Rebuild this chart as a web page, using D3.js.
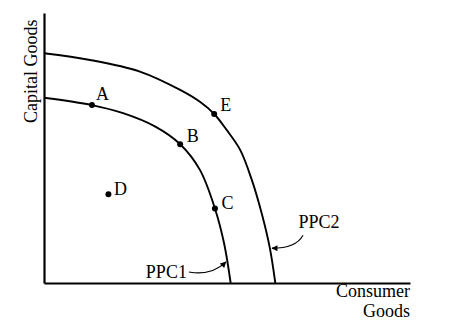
<!DOCTYPE html>
<html>
<head>
<meta charset="utf-8">
<script src="https://cdn.jsdelivr.net/npm/d3@7"></script>
<style>
  body { margin: 0; background: #fff; }
  text { font-family: "Liberation Serif", "Times New Roman", serif; font-size: 18px; fill: #000; }
</style>
</head>
<body>
<svg id="chart"></svg>
<script>
// curve points in (consumer goods, capital goods) units
const ppc1 = [[0, 6.86], [1.31, 6.59], [2.16, 6.29], [3.03, 5.80], [3.72, 5.14], [4.26, 4.19], [4.67, 2.76], [4.92, 1.47], [5.10, 0]];
const ppc2 = [[0, 8.51], [1.26, 8.26], [2.62, 7.83], [3.72, 7.15], [4.26, 6.71], [4.65, 6.26], [4.99, 5.67], [5.36, 4.93], [5.68, 3.81], [5.96, 2.52], [6.17, 1.30], [6.32, 0]];
const pointNames = ["A", "B", "C", "D", "E"];
const pointX = [1.31, 3.72, 4.67, 1.76, 4.65];
const pointY = [6.59, 5.14, 2.76, 3.29, 6.26];
const curveNames = ["PPC1", "PPC2"];
const calloutX = [4.97, 6.23];
const calloutY = [0.78, 1.29];

let width = 463, height = 336;
let margin = { top: 13, right: 53, bottom: 53, left: 44 };

let svg = d3.select("#chart")
  .attr("width", width)
  .attr("height", height);

let x = d3.scaleLinear().domain([0, 10]).range([margin.left, width - margin.right]);
let y = d3.scaleLinear().domain([0, 10]).range([height - margin.bottom, margin.top]);

// axes: plain lines, no ticks
svg.append("g")
  .attr("transform", "translate(0," + y(0) + ")")
  .call(d3.axisBottom(x).tickValues([]).tickSizeOuter(0))
  .select(".domain").attr("stroke", "#000").attr("stroke-width", 2.2);
svg.append("g")
  .attr("transform", "translate(" + x(0) + ",0)")
  .call(d3.axisLeft(y).tickValues([]).tickSizeOuter(0))
  .select(".domain").attr("stroke", "#000").attr("stroke-width", 2.2);

let line = d3.line()
  .x(d => x(d[0]))
  .y(d => y(d[1]))
  .curve(d3.curveCatmullRom.alpha(0.5));

svg.selectAll("path.ppc")
  .data([ppc1, ppc2])
  .enter().append("path")
  .attr("class", "ppc")
  .attr("d", line)
  .attr("fill", "none")
  .attr("stroke", "#000")
  .attr("stroke-width", 1.9);

// labelled points
let pts = pointNames.map((n, i) => ({ name: n, x: pointX[i], y: pointY[i] }));
let labelOffset = { A: [4, -5], B: [6.5, -2.5], C: [6.5, 1], D: [5.5, 1], E: [6, -3] };
svg.selectAll("circle.pt")
  .data(pts)
  .enter().append("circle")
  .attr("cx", d => x(d.x))
  .attr("cy", d => y(d.y))
  .attr("r", 3)
  .attr("fill", "#000");
svg.selectAll("text.pt")
  .data(pts)
  .enter().append("text")
  .attr("x", d => x(d.x) + labelOffset[d.name][0])
  .attr("y", d => y(d.y) + labelOffset[d.name][1])
  .text(d => d.name);

// curve callouts with arrows
svg.append("defs").append("marker")
  .attr("id", "head")
  .attr("viewBox", "0 0 10 10")
  .attr("refX", 9).attr("refY", 5)
  .attr("markerWidth", 7).attr("markerHeight", 6)
  .attr("markerUnits", "userSpaceOnUse")
  .attr("orient", "auto")
  .append("path").attr("d", "M0,0L10,5L0,10z").attr("fill", "#000");

let callouts = curveNames.map((n, i) => ({ name: n, x: calloutX[i], y: calloutY[i] }));
// label anchor, arrow start and control point relative to the arrow tip
let calloutStyle = {
  PPC1: { text: [-39, 16], anchor: "end", start: [-37, 10], ctrl: [-14, 14] },
  PPC2: { text: [26.5, -20], anchor: "start", start: [31, -13], ctrl: [24, 0] }
};
callouts.forEach(c => {
  let s = calloutStyle[c.name];
  let tx = x(c.x), ty = y(c.y);
  let p = d3.path();
  p.moveTo(tx + s.start[0], ty + s.start[1]);
  p.quadraticCurveTo(tx + s.ctrl[0], ty + s.ctrl[1], tx, ty);
  svg.append("path")
    .attr("d", p.toString())
    .attr("fill", "none")
    .attr("stroke", "#000")
    .attr("stroke-width", 1.1)
    .attr("marker-end", "url(#head)");
  svg.append("text")
    .attr("x", tx + s.text[0])
    .attr("y", ty + s.text[1])
    .attr("text-anchor", s.anchor)
    .text(c.name);
});

// axis titles
svg.append("text")
  .attr("transform", "translate(" + (x(0) - 7) + "," + (y(0) - 160) + ") rotate(-90)")
  .text("Capital Goods");
svg.append("text")
  .attr("x", x(10)).attr("y", y(0) + 14)
  .attr("text-anchor", "end")
  .text("Consumer");
svg.append("text")
  .attr("x", x(10)).attr("y", y(0) + 34)
  .attr("text-anchor", "end")
  .text("Goods");
</script>
</body>
</html>
